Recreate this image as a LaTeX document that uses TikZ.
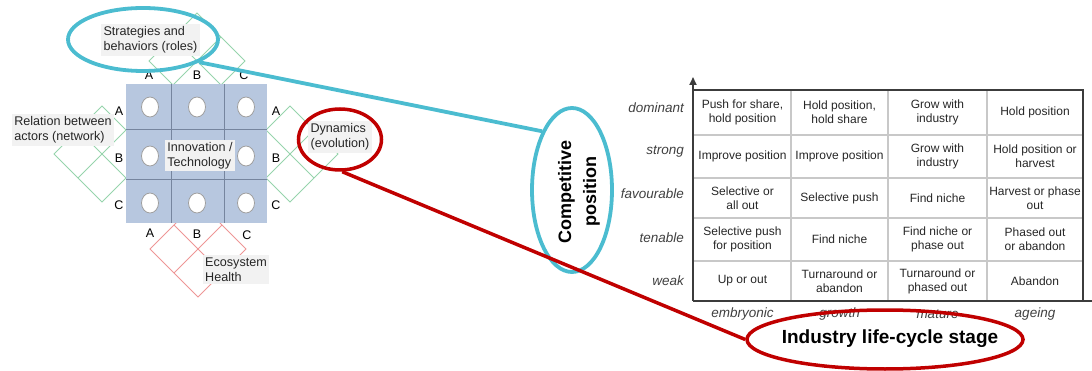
\documentclass[tikz,border=0pt]{standalone}
\usepackage{fontspec}
\setmainfont{Liberation Sans}
\usetikzlibrary{shapes.geometric,arrows.meta}
\definecolor{gridfill}{RGB}{183,199,223}
\definecolor{gridline}{RGB}{118,133,158}
\definecolor{diagGreen}{RGB}{150,212,172}
\definecolor{diagRed}{RGB}{238,150,150}
\definecolor{labelbg}{RGB}{242,242,242}
\definecolor{ringCyan}{RGB}{75,188,208}
\definecolor{ringRed}{RGB}{192,0,0}
\definecolor{tabBorder}{RGB}{60,60,60}
\definecolor{tabInner}{RGB}{200,200,200}
\definecolor{axisText}{RGB}{64,64,64}
\begin{document}
\begin{tikzpicture}[x=1pt,y=-1pt,
  lbl/.style={fill=labelbg, inner sep=2.5pt, align=left, text=black!85,
    font=\fontsize{12.6}{15}\selectfont},
  abc/.style={inner sep=0pt, font=\fontsize{12.5}{14}\selectfont},
  hole/.style={ellipse, draw=gray!75, fill=white, line width=0.8pt,
    minimum width=17pt, minimum height=20pt, inner sep=0pt},
  ring/.style={ellipse, draw, inner sep=0pt},
  cell/.style={align=center, inner sep=0pt, text=black!85,
    font=\fontsize{12}{14}\selectfont},
  rowlab/.style={anchor=east, inner sep=0pt, text=axisText,
    font=\fontsize{13.5}{15}\selectfont\itshape},
  collab/.style={inner sep=0pt, text=axisText,
    font=\fontsize{13.5}{15}\selectfont\itshape},
  rotgrid/.pic={\draw[line width=0.8pt] (0,-48) -- (48,0) -- (0,48) -- (-48,0) -- cycle
      (-24,-24) -- (24,24) (24,-24) -- (-24,24);}
]
\useasboundingbox (0,0) rectangle (1092,371);

% ---- rotated side grids (partly hidden by the central grid) ----
\pic[color=diagGreen] at (197,61) {rotgrid};
\pic[color=diagGreen] at (102,154) {rotgrid};
\pic[color=diagGreen] at (290,154) {rotgrid};
\pic[color=diagRed] at (198,249) {rotgrid};

% ---- central 3x3 grid ----
\fill[gridfill] (126,84) rectangle (267,223);
\draw[gridline, line width=0.9pt] (171,84) -- (171,223) (224,84) -- (224,223)
  (126,129) -- (267,129) (126,179) -- (267,179);
\node[hole] (h11) at (150,107) {};
\node[hole] (h12) at (197,107) {};
\node[hole] (h13) at (246,107) {};
\node[hole] (h21) at (150,156) {};
\node[hole] (h23) at (246,156) {};
\node[hole] (h31) at (150,203) {};
\node[hole] (h32) at (197,203) {};
\node[hole] (h33) at (246,203) {};

% ---- A/B/C side letters ----
\node[abc] (tA) at (149,75) {A};
\node[abc] (tB) at (197,75) {B};
\node[abc] (tC) at (244,75) {C};
\node[abc] (lA) at (119,111) {A};
\node[abc] (lB) at (119,158) {B};
\node[abc] (lC) at (119,205) {C};
\node[abc] (rA) at (276,111) {A};
\node[abc] (rB) at (276,158) {B};
\node[abc] (rC) at (276,205) {C};
\node[abc] (bA) at (150,233) {A};
\node[abc] (bB) at (197,234) {B};
\node[abc] (bC) at (247,235) {C};

% ---- labels ----
\node[lbl] (strat) at (150.5,40) {Strategies and\\behaviors (roles)};
\node[lbl] (rel) at (63,130) {Relation between\\actors (network)};
\node[lbl] (innov) at (200,155.5) {Innovation /\\Technology};
\node[lbl] (dyn) at (340,137) {Dynamics\\(evolution)};
\node[lbl] (eco) at (236,269.5) {Ecosystem\\Health};

% ---- highlight rings ----
\node[ring, draw=ringCyan, line width=3.8pt, minimum width=150pt, minimum height=63pt]
  (stratring) at (143,39.5) {};
\node[ring, draw=ringRed, line width=3.5pt, minimum width=83pt, minimum height=61pt]
  (dynring) at (340,139.5) {};

% ---- competitive position table ----
\coordinate (origin) at (693,301);
\coordinate (ytip) at (693,77);
\coordinate (xend) at (1092,301);
\draw[tabInner, line width=1.4pt]
  (791,90) -- (791,301) (888,90) -- (888,301) (987,90) -- (987,301)
  (694,135) -- (1083,135) (694,178) -- (1083,178) (694,218) -- (1083,218) (694,261) -- (1083,261);
\draw[tabBorder, line width=1.2pt] (694,90) -- (1083,90) -- (1083,301);
\draw[tabBorder, line width=1.8pt, -{Triangle[width=7pt,length=8pt]}] (origin) -- (ytip);
\draw[tabBorder, line width=1.4pt] (origin) -- (xend);

\node[cell] (c11) at (742.5,112.5) {Push for share,\\hold position};
\node[cell] (c12) at (839.5,112.5) {Hold position,\\hold share};
\node[cell] (c13) at (937.5,112.5) {Grow with\\industry};
\node[cell] (c14) at (1035,112.5) {Hold position};
\node[cell] (c21) at (742.5,156.5) {Improve position};
\node[cell] (c22) at (839.5,156.5) {Improve position};
\node[cell] (c23) at (937.5,156.5) {Grow with\\industry};
\node[cell] (c24) at (1035,156.5) {Hold position or\\harvest};
\node[cell] (c31) at (742.5,198) {Selective or\\all out};
\node[cell] (c32) at (839.5,198) {Selective push};
\node[cell] (c33) at (937.5,198) {Find niche};
\node[cell] (c34) at (1035,198) {Harvest or phase\\out};
\node[cell] (c41) at (742.5,239.5) {Selective push\\for position};
\node[cell] (c42) at (839.5,239.5) {Find niche};
\node[cell] (c43) at (937.5,239.5) {Find niche or\\phase out};
\node[cell] (c44) at (1035,239.5) {Phased out\\or abandon};
\node[cell] (c51) at (742.5,281) {Up or out};
\node[cell] (c52) at (839.5,281) {Turnaround or\\abandon};
\node[cell] (c53) at (937.5,281) {Turnaround or\\phased out};
\node[cell] (c54) at (1035,281) {Abandon};

\node[rowlab] (rDom) at (684,108) {dominant};
\node[rowlab] (rStr) at (684,152) {strong};
\node[rowlab] (rFav) at (684,194) {favourable};
\node[rowlab] (rTen) at (684,238) {tenable};
\node[rowlab] (rWeak) at (684,281) {weak};

\node[collab] (kEmb) at (742.5,314) {embryonic};
\node[collab] (kGro) at (839.5,314) {growth};
\node[collab] (kMat) at (937.5,314) {mature};
\node[collab] (kAge) at (1035,314) {ageing};

% ---- axis title rings ----
\node[ring, draw=ringCyan, line width=3.8pt, minimum width=80pt, minimum height=164pt]
  (compring) at (572,190) {};
\node[rotate=90, align=center, inner sep=0pt, font=\fontsize{18}{25}\selectfont\bfseries]
  (comp) at (579,192) {Competitive\\position};
\node[ring, draw=ringRed, line width=3.5pt, minimum width=276pt, minimum height=59pt]
  (lifering) at (885,339.5) {};
\node[inner sep=0pt, font=\fontsize{19}{22}\selectfont\bfseries]
  (life) at (890,339) {Industry life-cycle stage};

% ---- connectors ----
\draw[ringCyan, line width=3.8pt] (stratring.-22.6) -- (compring.117.8);
\draw[ringRed, line width=3.5pt] (dynring.-86) -- (lifering.west);
\end{tikzpicture}
\end{document}
